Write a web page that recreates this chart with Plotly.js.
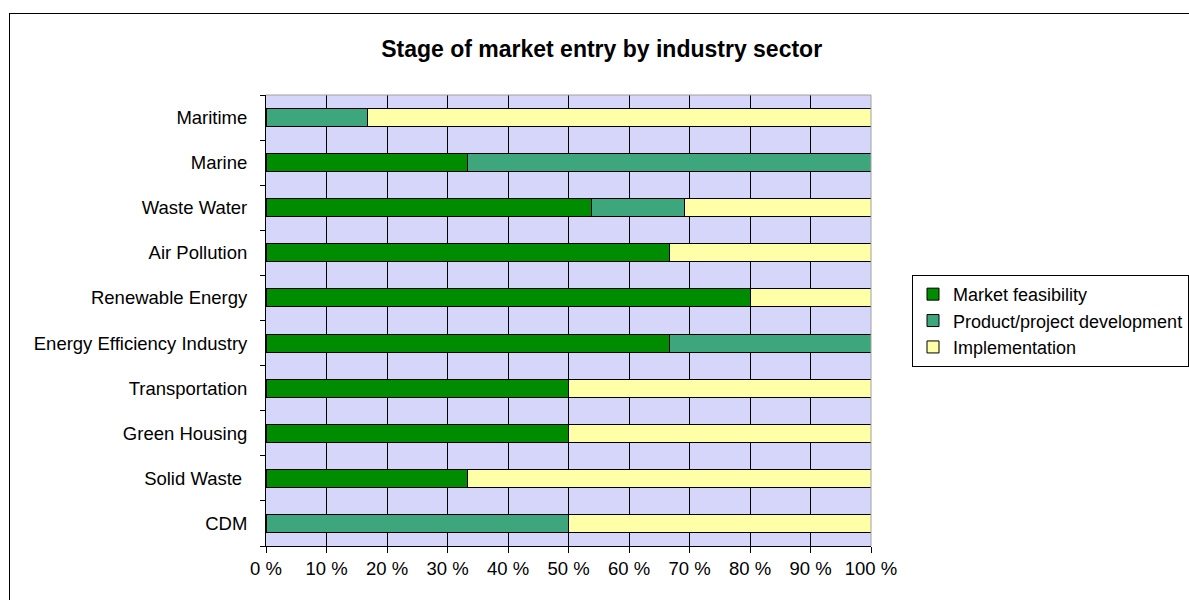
<!DOCTYPE html>
<html>
<head>
<meta charset="utf-8">
<script src="https://cdn.plot.ly/plotly-3.0.1.min.js"></script>
<style>
html,body{margin:0;padding:0;background:#fff;overflow:hidden;}
#chart{position:absolute;left:0;top:0;width:1189px;height:600px;}
#frame{position:absolute;left:9px;top:13px;width:1300px;height:700px;border:1.5px solid #000;pointer-events:none;}
</style>
</head>
<body>
<div id="chart"></div>
<div id="frame"></div>
<script>
const categories = ["CDM", "Solid Waste ", "Green Housing", "Transportation", "Energy Efficiency Industry", "Renewable Energy", "Air Pollution", "Waste Water", "Marine", "Maritime"];
const marketFeasibility = [0, 33.3, 50, 50, 66.7, 80, 66.7, 53.8, 33.3, 0];
const productDevelopment = [50, 0, 0, 0, 33.3, 0, 0, 15.4, 66.7, 16.7];
const implementation = [50, 66.7, 50, 50, 0, 20, 33.3, 30.8, 0, 83.3];
const seriesNames = ["Market feasibility", "Product/project development", "Implementation"];
const seriesColors = ["#008C00", "#3DA67C", "#FFFFA8"];

const seriesValues = [marketFeasibility, productDevelopment, implementation];
const traces = seriesValues.map((vals, i) => ({
  type: "bar",
  orientation: "h",
  name: seriesNames[i],
  legendgroup: "g" + i,
  y: categories,
  x: vals,
  marker: {color: seriesColors[i], line: {color: "#000", width: 1}},
  hoverinfo: "x+y+name"
}));

const layout = {
  width: 1189, height: 600,
  paper_bgcolor: "rgba(0,0,0,0)",
  plot_bgcolor: "#D6D6FA",
  barmode: "stack",
  bargap: 0.6,
  font: {family: "Liberation Sans, Arial, sans-serif", size: 18.5, color: "#000"},
  title: {text: "<b>Stage of market entry by industry sector</b>", x: 0.506, xanchor: "center", y: 0.918, yanchor: "middle", font: {size: 23}},
  margin: {l: 266, r: 318, t: 95, b: 54, autoexpand: false},
  xaxis: {
    range: [0, 100], dtick: 10, tick0: 0, ticksuffix: " %",
    showgrid: true, gridcolor: "#000", gridwidth: 1,
    ticks: "outside", ticklen: 6, tickcolor: "#000", tickwidth: 1,
    showline: true, linecolor: "#000", linewidth: 1, mirror: false,
    zeroline: false, fixedrange: true, automargin: false
  },
  yaxis: {
    type: "category", tickson: "boundaries",
    ticks: "outside", ticklen: 5, tickcolor: "#000", tickwidth: 1,
    showline: true, linecolor: "#000", linewidth: 1,
    showgrid: false, ticklabelstandoff: 14, fixedrange: true, automargin: false
  },
  shapes: [
    {type: "line", xref: "paper", yref: "paper", x0: 0, x1: 1, y0: 1, y1: 1, line: {color: "#A0A0A0", width: 1}},
    {type: "line", xref: "paper", yref: "paper", x0: 1, x1: 1, y0: 0, y1: 1, line: {color: "#A0A0A0", width: 1}}
  ],
  legend: {
    x: (912 - 266) / 605, xanchor: "left", y: 0.601, yanchor: "top",
    bordercolor: "#000", borderwidth: 1, bgcolor: "#fff",
    font: {size: 18}, traceorder: "grouped", tracegroupgap: 0, itemwidth: 30
  },
  showlegend: true
};

Plotly.newPlot("chart", traces, layout, {displayModeBar: false});
</script>
</body>
</html>
